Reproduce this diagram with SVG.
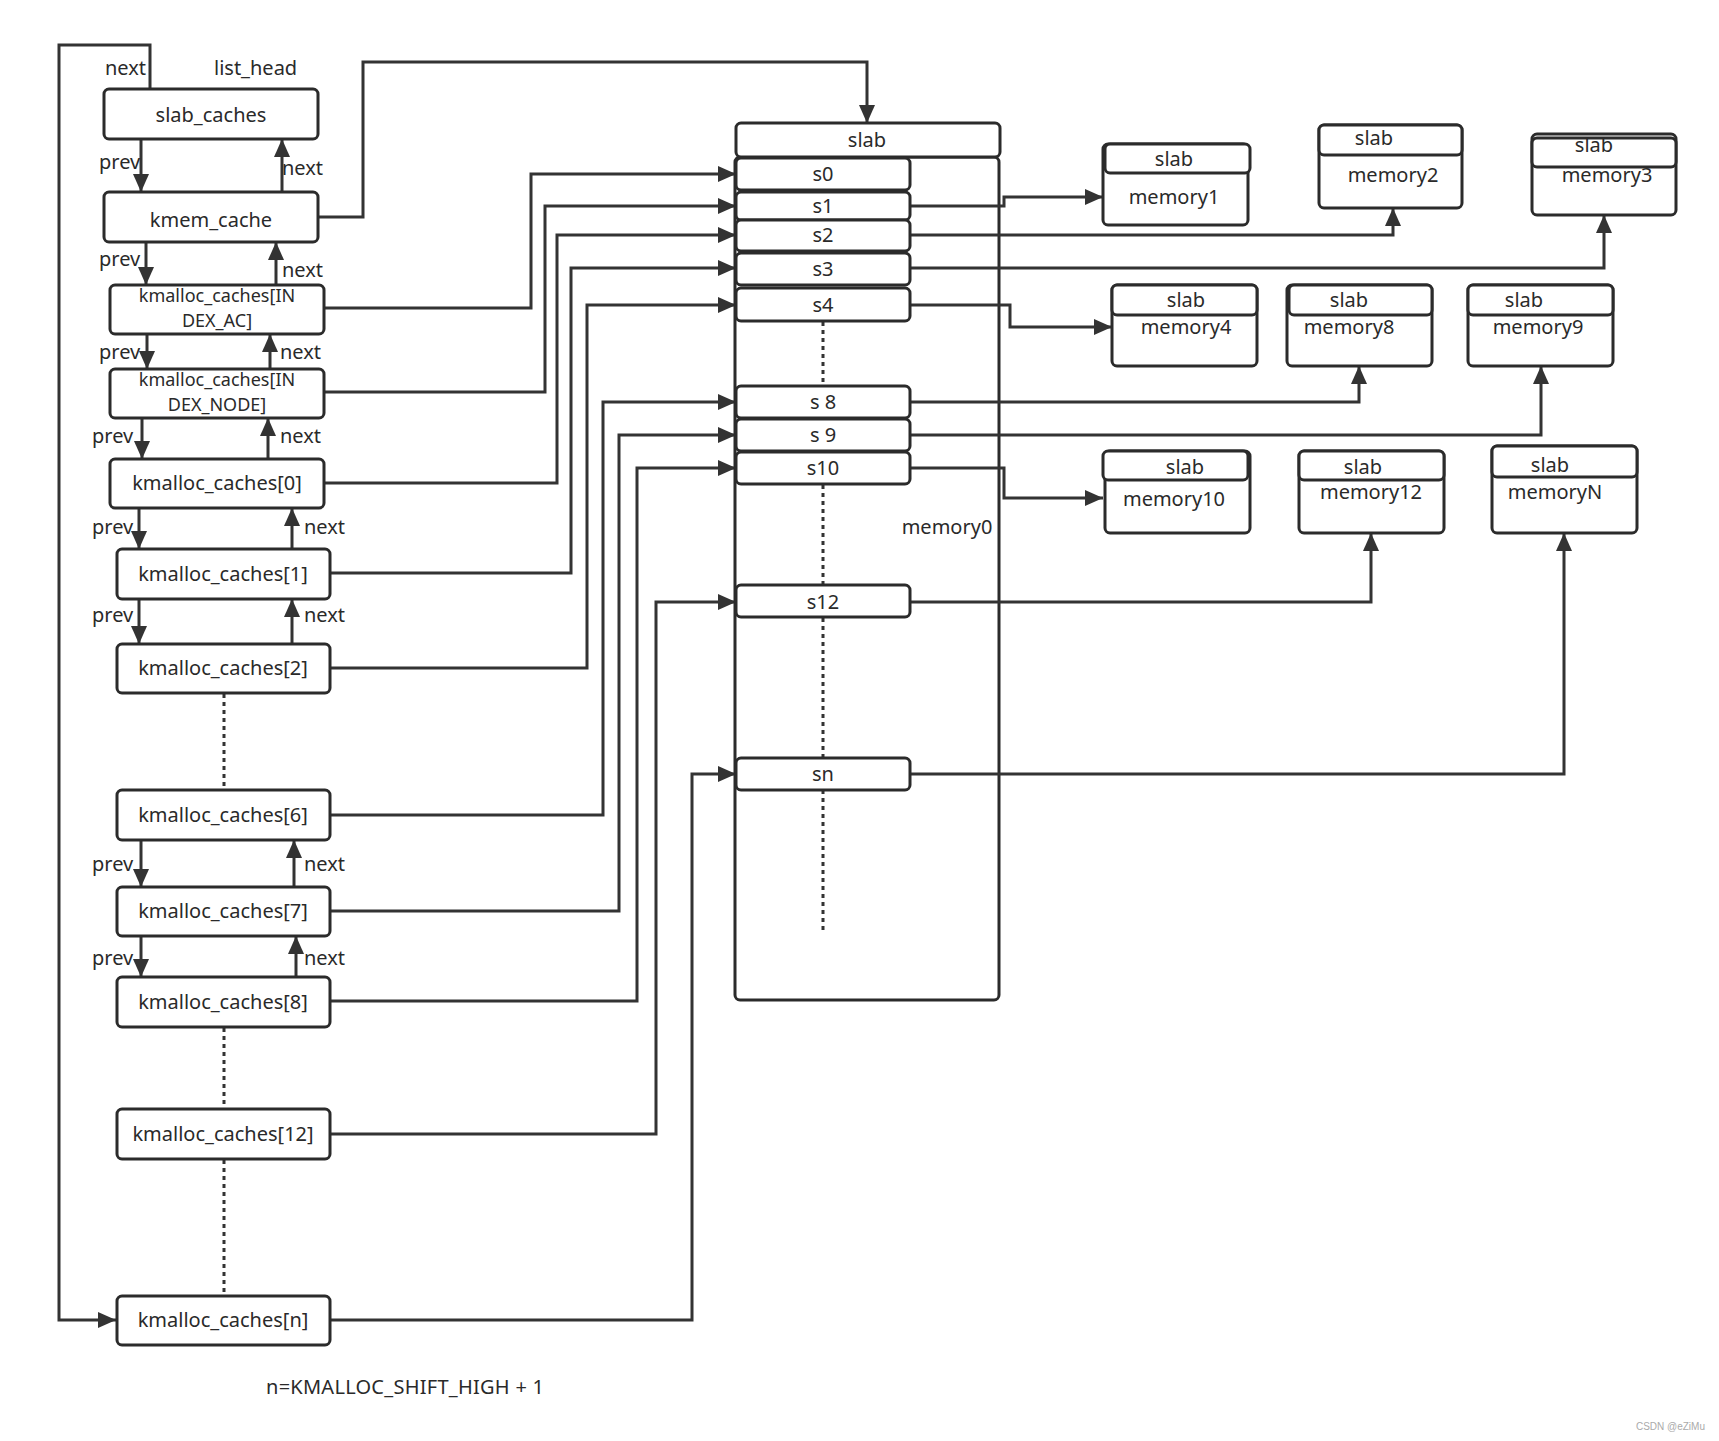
<svg xmlns="http://www.w3.org/2000/svg" width="1719" height="1441" viewBox="0 0 1719 1441">
<style>
.box{fill:#fff;stroke:#2b2b2b;stroke-width:3}
.t{font-family:"Noto Sans","Liberation Sans",sans-serif;font-size:20px;fill:#2a2a2a;text-anchor:middle}
.t2{font-family:"Noto Sans","Liberation Sans",sans-serif;font-size:18px;fill:#2a2a2a;text-anchor:middle}
.l{font-family:"Noto Sans","Liberation Sans",sans-serif;font-size:20px;fill:#2a2a2a}
.a{fill:none;stroke:#333;stroke-width:3;marker-end:url(#arr)}
.d{fill:none;stroke:#333;stroke-width:3;stroke-dasharray:4 4}
</style>
<defs>
<marker id="arr" markerUnits="userSpaceOnUse" markerWidth="19" markerHeight="16" refX="18" refY="8" orient="auto">
<path d="M0,0 L18,8 L0,16 z" fill="#333"/>
</marker>
</defs>
<rect width="1719" height="1441" fill="#fff"/>

<g id="connectors">
<path class="a" d="M150,89 V45 H59 V1320 H116"/>
<path class="a" d="M318,217 H363 V62 H867 V123"/>
<path class="a" d="M141,139 V192"/><path class="a" d="M282,192 V139"/>
<path class="a" d="M146,242 V285"/><path class="a" d="M276,285 V242"/>
<path class="a" d="M147,334 V369"/><path class="a" d="M270,369 V334"/>
<path class="a" d="M142,418 V459"/><path class="a" d="M268,459 V418"/>
<path class="a" d="M139,508 V549"/><path class="a" d="M292,549 V508"/>
<path class="a" d="M139,599 V644"/><path class="a" d="M292,644 V599"/>
<path class="a" d="M141,840 V887"/><path class="a" d="M294,887 V840"/>
<path class="a" d="M141,936 V977"/><path class="a" d="M296,977 V936"/>
<path class="d" d="M224,694 V790"/>
<path class="d" d="M224,1028 V1109"/>
<path class="d" d="M224,1160 V1296"/>
<path class="a" d="M324,308 H531 V174 H736"/>
<path class="a" d="M324,392 H545 V206 H736"/>
<path class="a" d="M324,483 H557 V235 H736"/>
<path class="a" d="M330,573 H571 V268 H736"/>
<path class="a" d="M330,668 H587 V305 H736"/>
<path class="a" d="M330,815 H603 V402 H736"/>
<path class="a" d="M330,911 H619 V435 H736"/>
<path class="a" d="M330,1001 H637 V468 H736"/>
<path class="a" d="M330,1134 H656 V602 H736"/>
<path class="a" d="M330,1320 H692 V774 H736"/>
</g>

<g id="memory0">
<rect class="box" x="735" y="157" width="264" height="843" rx="5"/>
<text class="t" x="947" y="534">memory0</text>
<path class="d" d="M823,322 V386"/>
<path class="d" d="M823,485 V585"/>
<path class="d" d="M823,618 V758"/>
<path class="d" d="M823,790 V932"/>
</g>

<g id="connectors-right">
<path class="a" d="M910,206 H1004 V197 H1103"/>
<path class="a" d="M910,235 H1393 V208"/>
<path class="a" d="M910,268 H1604 V215"/>
<path class="a" d="M910,305 H1010 V327 H1112"/>
<path class="a" d="M910,402 H1359 V366"/>
<path class="a" d="M910,435 H1541 V366"/>
<path class="a" d="M910,468 H1004 V498 H1103"/>
<path class="a" d="M910,602 H1371 V533"/>
<path class="a" d="M910,774 H1564 V533"/>
</g>

<g id="slab-head"><rect class="box" x="736" y="123" width="264" height="34" rx="5"/><text class="t" x="867" y="147">slab</text></g>
<g id="s0"><rect class="box" x="736" y="158" width="174" height="32" rx="5"/><text class="t" x="823" y="181">s0</text></g>
<g id="s1"><rect class="box" x="736" y="192" width="174" height="28" rx="5"/><text class="t" x="823" y="213">s1</text></g>
<g id="s2"><rect class="box" x="736" y="220" width="174" height="31" rx="5"/><text class="t" x="823" y="242">s2</text></g>
<g id="s3"><rect class="box" x="736" y="253" width="174" height="32" rx="5"/><text class="t" x="823" y="276">s3</text></g>
<g id="s4"><rect class="box" x="736" y="288" width="174" height="33" rx="5"/><text class="t" x="823" y="312">s4</text></g>
<g id="s8"><rect class="box" x="736" y="386" width="174" height="32" rx="5"/><text class="t" x="823" y="409">s 8</text></g>
<g id="s9"><rect class="box" x="736" y="419" width="174" height="32" rx="5"/><text class="t" x="823" y="442">s 9</text></g>
<g id="s10"><rect class="box" x="736" y="452" width="174" height="32" rx="5"/><text class="t" x="823" y="475">s10</text></g>
<g id="s12"><rect class="box" x="736" y="585" width="174" height="32" rx="5"/><text class="t" x="823" y="609">s12</text></g>
<g id="sn"><rect class="box" x="736" y="758" width="174" height="32" rx="5"/><text class="t" x="823" y="781">sn</text></g>

<g id="slab_caches"><rect class="box" x="104" y="89" width="214" height="50" rx="5"/><text class="t" x="211" y="122">slab_caches</text></g>
<g id="kmem_cache"><rect class="box" x="104" y="192" width="214" height="50" rx="5"/><text class="t" x="211" y="227">kmem_cache</text></g>
<g id="kc_ac"><rect class="box" x="110" y="285" width="214" height="49" rx="5"/><text class="t2" x="217" y="302">kmalloc_caches[IN</text><text class="t2" x="217" y="327">DEX_AC]</text></g>
<g id="kc_node"><rect class="box" x="110" y="369" width="214" height="49" rx="5"/><text class="t2" x="217" y="386">kmalloc_caches[IN</text><text class="t2" x="217" y="411">DEX_NODE]</text></g>
<g id="kc0"><rect class="box" x="110" y="459" width="214" height="49" rx="5"/><text class="t" x="217" y="490">kmalloc_caches[0]</text></g>
<g id="kc1"><rect class="box" x="117" y="549" width="213" height="50" rx="5"/><text class="t" x="223" y="581">kmalloc_caches[1]</text></g>
<g id="kc2"><rect class="box" x="117" y="644" width="213" height="49" rx="5"/><text class="t" x="223" y="675">kmalloc_caches[2]</text></g>
<g id="kc6"><rect class="box" x="117" y="790" width="213" height="50" rx="5"/><text class="t" x="223" y="822">kmalloc_caches[6]</text></g>
<g id="kc7"><rect class="box" x="117" y="887" width="213" height="49" rx="5"/><text class="t" x="223" y="918">kmalloc_caches[7]</text></g>
<g id="kc8"><rect class="box" x="117" y="977" width="213" height="50" rx="5"/><text class="t" x="223" y="1009">kmalloc_caches[8]</text></g>
<g id="kc12"><rect class="box" x="117" y="1109" width="213" height="50" rx="5"/><text class="t" x="223" y="1141">kmalloc_caches[12]</text></g>
<g id="kcn"><rect class="box" x="117" y="1296" width="213" height="49" rx="5"/><text class="t" x="223" y="1327">kmalloc_caches[n]</text></g>

<g id="labels">
<text class="l" x="105" y="75">next</text>
<text class="l" x="214" y="75">list_head</text>
<text class="l" x="99" y="169">prev</text><text class="l" x="282" y="175">next</text>
<text class="l" x="99" y="266">prev</text><text class="l" x="282" y="277">next</text>
<text class="l" x="99" y="359">prev</text><text class="l" x="280" y="359">next</text>
<text class="l" x="92" y="443">prev</text><text class="l" x="280" y="443">next</text>
<text class="l" x="92" y="534">prev</text><text class="l" x="304" y="534">next</text>
<text class="l" x="92" y="622">prev</text><text class="l" x="304" y="622">next</text>
<text class="l" x="92" y="871">prev</text><text class="l" x="304" y="871">next</text>
<text class="l" x="92" y="965">prev</text><text class="l" x="304" y="965">next</text>
<text class="l" x="266" y="1394" textLength="278">n=KMALLOC_SHIFT_HIGH + 1</text>
</g>

<g id="memory1"><rect class="box" x="1103" y="144" width="145" height="81" rx="5"/><rect class="box" x="1105" y="144" width="145" height="29" rx="5"/><text class="t" x="1174" y="166">slab</text><text class="t" x="1174" y="204">memory1</text></g>
<g id="memory2"><rect class="box" x="1319" y="125" width="143" height="83" rx="5"/><rect class="box" x="1319" y="125" width="143" height="30" rx="5"/><text class="t" x="1374" y="145">slab</text><text class="t" x="1393" y="182">memory2</text></g>
<g id="memory3"><rect class="box" x="1532" y="134" width="144" height="81" rx="5"/><rect class="box" x="1532" y="138" width="144" height="29" rx="5"/><text class="t" x="1594" y="152">slab</text><text class="t" x="1607" y="182">memory3</text></g>
<g id="memory4"><rect class="box" x="1112" y="285" width="145" height="81" rx="5"/><rect class="box" x="1112" y="285" width="145" height="30" rx="5"/><text class="t" x="1186" y="307">slab</text><text class="t" x="1186" y="334">memory4</text></g>
<g id="memory8"><rect class="box" x="1287" y="285" width="145" height="81" rx="5"/><rect class="box" x="1289" y="285" width="143" height="30" rx="5"/><text class="t" x="1349" y="307">slab</text><text class="t" x="1349" y="334">memory8</text></g>
<g id="memory9"><rect class="box" x="1468" y="285" width="145" height="81" rx="5"/><rect class="box" x="1468" y="285" width="145" height="30" rx="5"/><text class="t" x="1524" y="307">slab</text><text class="t" x="1538" y="334">memory9</text></g>
<g id="memory10"><rect class="box" x="1105" y="451" width="145" height="82" rx="5"/><rect class="box" x="1103" y="451" width="145" height="29" rx="5"/><text class="t" x="1185" y="474">slab</text><text class="t" x="1174" y="506">memory10</text></g>
<g id="memory12"><rect class="box" x="1299" y="451" width="145" height="82" rx="5"/><rect class="box" x="1299" y="451" width="145" height="29" rx="5"/><text class="t" x="1363" y="474">slab</text><text class="t" x="1371" y="499">memory12</text></g>
<g id="memoryN"><rect class="box" x="1492" y="446" width="145" height="87" rx="5"/><rect class="box" x="1492" y="446" width="145" height="31" rx="5"/><text class="t" x="1550" y="472">slab</text><text class="t" x="1555" y="499">memoryN</text></g>

<text x="1705" y="1430" font-family="Liberation Sans, sans-serif" font-size="10" fill="#aaa" text-anchor="end">CSDN @eZiMu</text>
</svg>
